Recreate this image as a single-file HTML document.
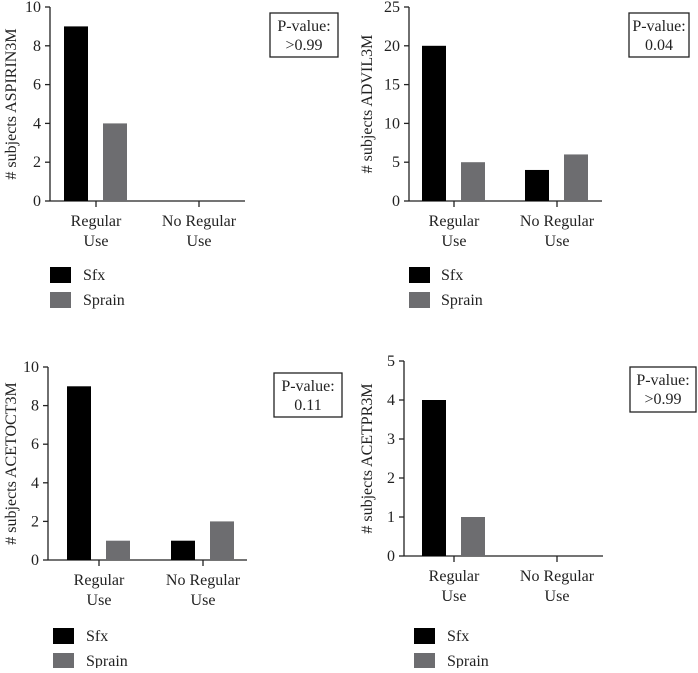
<!DOCTYPE html>
<html><head><meta charset="utf-8"><style>
body{margin:0;background:#fff}
svg text{font-family:"Liberation Serif",serif;font-size:16px;fill:#222}
</style></head><body>
<svg id="c" width="698" height="668"></svg>
<script>
const categories=["Regular Use","No Regular Use"];
const seriesNames=["Sfx","Sprain"];
const titles=["ASPIRIN3M","ADVIL3M","ACETOCT3M","ACETPR3M"];
const pvalues=[">0.99","0.04","0.11",">0.99"];
const sfx1=[9,0],spr1=[4,0];
const sfx2=[20,4],spr2=[5,6];
const sfx3=[9,1],spr3=[1,2];
const sfx4=[4,0],spr4=[1,0];
const ymax=[10,25,10,5];
const ticks1=[0,2,4,6,8,10],ticks2=[0,5,10,15,20,25],ticks3=[0,2,4,6,8,10],ticks4=[0,1,2,3,4,5];
const panels=[
 {ax:50,top:7,zero:201,end:245,c:[96,199],box:[270,13,68,44],leg:[50,267,83],lab:12,s:sfx1,p:spr1,t:ticks1},
 {ax:409,top:7,zero:201,end:602,c:[454,557],box:[629,13,60,44],leg:[409,267,441],lab:368,s:sfx2,p:spr2,t:ticks2},
 {ax:48,top:367,zero:560,end:247,c:[99,203],box:[274,373,68,44],leg:[53,628,86],lab:12,s:sfx3,p:spr3,t:ticks3},
 {ax:404,top:361,zero:556,end:603,c:[454,557],box:[630,367,66,45],leg:[414,628,447],lab:368,s:sfx4,p:spr4,t:ticks4}];
const svg=document.getElementById('c');const NS='http://www.w3.org/2000/svg';
function mk(tag,at,txt){const e=document.createElementNS(NS,tag);for(const k in at)e.setAttribute(k,at[k]);if(txt!=null)e.textContent=txt;svg.appendChild(e);return e;}
const colors=["#000","#6d6d70"];
panels.forEach((P,i)=>{
 const y=v=>P.zero-(v/ymax[i])*(P.zero-P.top);
 let e=mk('line',{x1:P.ax,y1:P.top,x2:P.ax,y2:P.zero,stroke:'#222','stroke-width':1.3});
 
 e=mk('line',{x1:P.ax,y1:P.zero,x2:P.end,y2:P.zero,stroke:'#222','stroke-width':1.3});
 
 P.t.forEach(t=>{
  mk('line',{x1:P.ax-5,y1:y(t),x2:P.ax,y2:y(t),stroke:'#222','stroke-width':1.3});
  e=mk('text',{x:P.ax-9,y:y(t)+5,'text-anchor':'end'},t);
  
 });
 e=mk('text',{x:P.lab,y:(P.top+P.zero)/2,'text-anchor':'middle',transform:`rotate(-90 ${P.lab} ${(P.top+P.zero)/2})`,dy:4},'# subjects '+titles[i]);
 
 categories.forEach((c,j)=>{
  const cx=P.c[j];
  mk('line',{x1:cx,y1:P.zero,x2:cx,y2:P.zero+6,stroke:'#222','stroke-width':1.3});
  const w=c.split(' ');const l1=w.slice(0,-1).join(' '),l2=w[w.length-1];
  e=mk('text',{x:cx,y:P.zero+25,'text-anchor':'middle'},l1);
  
  e=mk('text',{x:cx,y:P.zero+45,'text-anchor':'middle'},l2);
  
  [P.s[j],P.p[j]].forEach((v,k)=>{
   const bx=k==0?cx-32:cx+7;
   e=mk('rect',{x:bx,y:y(v),width:24,height:P.zero-y(v),fill:colors[k]});
   
  });
 });
 const [bx,by,bw,bh]=P.box;
 e=mk('rect',{x:bx,y:by,width:bw,height:bh,fill:'#fff',stroke:'#222','stroke-width':1.3});
 
 mk('text',{x:bx+bw/2,y:by+18,'text-anchor':'middle'},'P-value:');
 mk('text',{x:bx+bw/2,y:by+37,'text-anchor':'middle'},pvalues[i]);
 seriesNames.forEach((s,k)=>{
  const ly=P.leg[1]+k*25;
  e=mk('rect',{x:P.leg[0],y:ly,width:21,height:16,fill:colors[k]});
  
  e=mk('text',{x:P.leg[2],y:ly+13},s);
  
 });
});
</script>
</body></html>
